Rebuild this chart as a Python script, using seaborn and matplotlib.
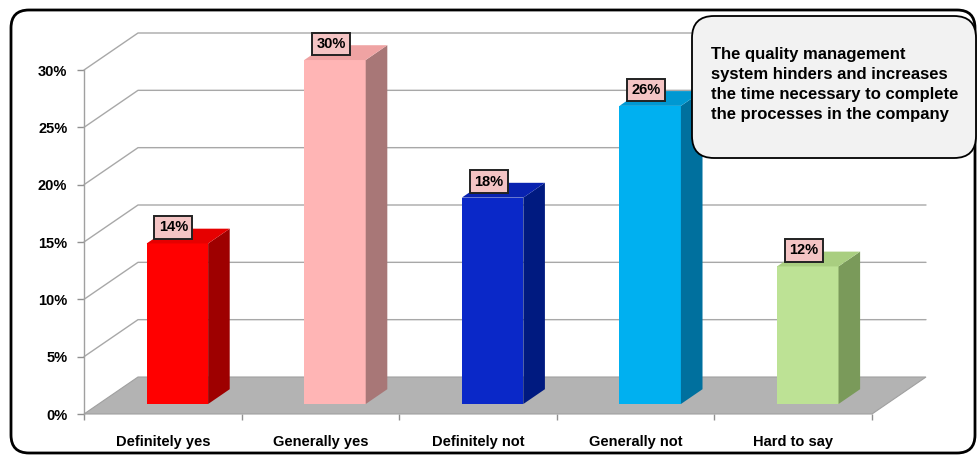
import matplotlib
matplotlib.use("Agg")
import matplotlib.pyplot as plt
import seaborn as sns
import pandas as pd
from matplotlib.patches import Polygon, FancyBboxPatch
from matplotlib.lines import Line2D
from matplotlib.transforms import IdentityTransform, ScaledTranslation

# ---------------- data ----------------
categories = ["Definitely yes", "Generally yes", "Definitely not", "Generally not", "Hard to say"]
values = [14, 30, 18, 26, 12]
value_labels = ["14%", "30%", "18%", "26%", "12%"]
yticks = [0, 5, 10, 15, 20, 25, 30]
ytick_labels = ["0%", "5%", "10%", "15%", "20%", "25%", "30%"]
front_colors = ["#FF0000", "#FFB5B5", "#0A28C8", "#00B0F0", "#BDE295"]
top_colors = ["#E60000", "#EFA3A3", "#0822B0", "#0098D2", "#A9CE80"]
side_colors = ["#9E0000", "#A87777", "#001A80", "#00709E", "#7A9A5A"]
note = ("The quality management\nsystem hinders and increases\n"
        "the time necessary to complete\nthe processes in the company")

# ---------------- style ----------------
sns.set_theme(style="white")
plt.rcParams["font.family"] = ["Liberation Sans", "DejaVu Sans"]

W, H = 979, 455
DPI = 100
fig = plt.figure(figsize=(W / DPI, H / DPI), dpi=DPI)
fig.patch.set_facecolor("white")

ax = fig.add_axes([84 / W, (H - 414) / H, (872 - 84) / W, (414 - 70) / H])
ax.set_facecolor("none")

df = pd.DataFrame({"cat": categories, "val": values})
sns.barplot(data=df, x="cat", y="val", hue="cat", palette=front_colors,
            width=0.39, saturation=1, legend=False, ax=ax, zorder=3,
            edgecolor="none")
bars = list(ax.patches)
ax.set_xlim(-0.5, 4.5)
ax.set_ylim(0, 30)

# depth vector (pixels) of the 3D box
DX, DY = 54, 37
F1, F2 = 0.27, 0.67


def disp(x, y, f):
    X, Y = ax.transData.transform((x, y))
    return (X + f * DX, Y + f * DY)


# floor
floor = Polygon([disp(-0.5, 0, 0), disp(4.5, 0, 0), disp(4.5, 0, 1), disp(-0.5, 0, 1)],
                closed=True, transform=IdentityTransform(), fc="#B3B3B3", ec="#A0A0A0",
                lw=0.8, zorder=1, clip_on=False)
ax.add_artist(floor)

# gridlines on side and back wall
for yv in yticks[1:]:
    pts = [disp(-0.5, yv, 0), disp(-0.5, yv, 1), disp(4.5, yv, 1)]
    ln = Line2D([p[0] for p in pts], [p[1] for p in pts], transform=IdentityTransform(),
                color="#A8A8A8", lw=1.0, zorder=1.5, clip_on=False)
    ax.add_artist(ln)

# shift front faces into the depth and add side/top faces
off = ScaledTranslation(F1 * DX / DPI, F1 * DY / DPI, fig.dpi_scale_trans)
for i, p in enumerate(bars):
    p.set_transform(ax.transData + off)
    p.set_clip_on(False)
    x0 = p.get_x()
    x1 = x0 + p.get_width()
    h = p.get_height()
    side = Polygon([disp(x1, 0, F1), disp(x1, 0, F2), disp(x1, h, F2), disp(x1, h, F1)],
                   closed=True, transform=IdentityTransform(), fc=side_colors[i],
                   ec="none", zorder=3, clip_on=False)
    top = Polygon([disp(x0, h, F1), disp(x1, h, F1), disp(x1, h, F2), disp(x0, h, F2)],
                  closed=True, transform=IdentityTransform(), fc=top_colors[i],
                  ec="none", zorder=3, clip_on=False)
    ax.add_artist(side)
    ax.add_artist(top)
    ax.annotate(value_labels[i], xy=(x0 + p.get_width() / 2, h), xycoords="data",
                xytext=((F1 * DX - 4) * 0.72, (F1 * DY + 16) * 0.72),
                textcoords="offset points", ha="center", va="center",
                fontsize=10.5, fontweight="bold", color="black", zorder=6,
                annotation_clip=False,
                bbox=dict(boxstyle="square,pad=0.3", fc="#F4C4C4", ec="#222222", lw=1.4))

# axes cosmetics
for s in ["top", "right", "bottom"]:
    ax.spines[s].set_visible(False)
ax.spines["left"].set_color("#A0A0A0")
ax.spines["left"].set_linewidth(1.0)
ax.set_xlabel("")
ax.set_ylabel("")
ax.set_yticks(yticks, ytick_labels)
ax.tick_params(axis="y", length=5, width=1, color="#909090", pad=7, labelsize=10.5,
               left=True)
ax.set_xticks(range(len(categories)), categories)
ax.set_xticks([i - 0.5 for i in range(len(categories) + 1)], minor=True)
ax.tick_params(axis="x", which="major", length=0, pad=15, labelsize=10.5)
ax.tick_params(axis="x", which="minor", length=4, width=1, color="#909090",
               direction="out", bottom=True)
for t in ax.get_yticklabels() + ax.get_xticklabels():
    t.set_fontweight("bold")
    t.set_color("black")

# outer rounded frame
frame = FancyBboxPatch((11, H - 453), 964, 443, boxstyle="round,pad=0,rounding_size=18",
                       transform=IdentityTransform(), fc="none", ec="black", lw=2.0,
                       zorder=10)
fig.add_artist(frame)

# note box
nbox = FancyBboxPatch((692, H - 158), 284, 142, boxstyle="round,pad=0,rounding_size=22",
                      transform=IdentityTransform(), fc="#F2F2F2", ec="black", lw=1.3,
                      zorder=11)
fig.add_artist(nbox)
fig.text(711 / W, (H - 47) / H, note, ha="left", va="top", fontsize=12,
         fontweight="bold", color="black", zorder=12, linespacing=1.42)

fig.savefig("out.png", dpi=DPI)
